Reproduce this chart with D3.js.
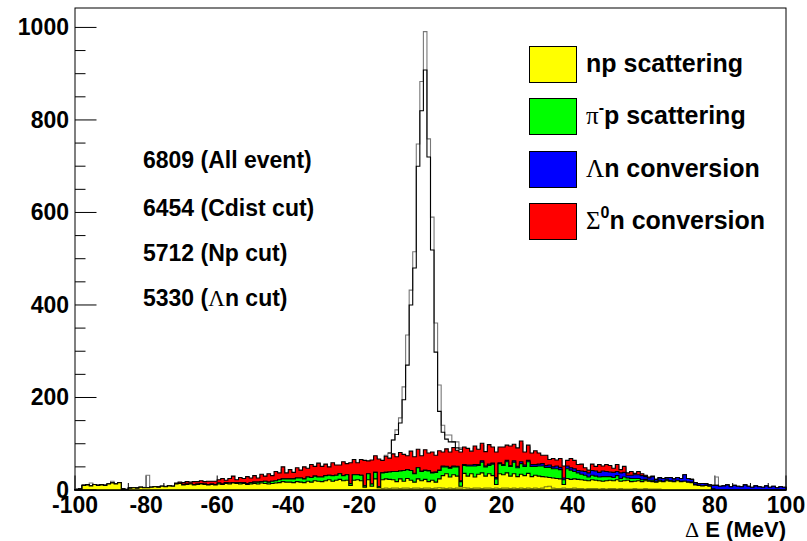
<!DOCTYPE html>
<html>
<head>
<meta charset="utf-8">
<script src="https://cdn.jsdelivr.net/npm/d3@7"></script>
<style>
  body { margin: 0; background: #fff; }
  text { font-family: "Liberation Sans", Arial, Helvetica, sans-serif; font-weight: bold; fill: #000; }
  .sym { font-family: "Liberation Serif", "DejaVu Serif", serif; font-weight: normal; }
</style>
</head>
<body>
<svg id="chart" width="807" height="541"></svg>
<script>
// 1 MeV bins, first bin starts at -100
const binStart = -100;

const npScattering = [
  1, 2, 10, 11, 9, 12, 10, 11, 10, 13,
  15, 13, 16, 2, 1, 4, 5, 4, 6, 5,
  5, 6, 7, 6, 8, 7, 9, 8, 13, 14,
  11, 12, 13, 11, 12, 13, 12, 11, 12, 11,
  13, 12, 14, 13, 15, 14, 13, 14, 12, 13,
  14, 13, 15, 14, 13, 14, 15, 16, 18, 17,
  17, 16, 18, 17, 16, 19, 17, 20, 19, 18,
  20, 22, 19, 21, 23, 20, 21, 10, 21, 22,
  20, 6, 22, 8, 24, 5, 22, 24, 23, 22,
  18, 24, 19, 25, 21, 17, 24, 20, 23, 18,
  21, 17, 24, 31, 35, 28, 33, 30, 8, 36,
  30, 35, 28, 34, 37, 30, 35, 31, 12, 35,
  33, 37, 30, 35, 29, 34, 31, 36, 29, 32,
  30, 29, 28, 27, 26, 25, 24, 12, 25, 23,
  24, 23, 22, 21, 20, 22, 21, 20, 19, 20,
  21, 20, 22, 19, 20, 21, 18, 19, 20, 18,
  20, 19, 18, 17, 19, 18, 20, 19, 18, 20,
  18, 19, 17, 16, 11, 10, 9, 10, 8, 2,
  0, 0, 0, 0, 0, 0, 0, 0, 0, 0,
  0, 0, 0, 0, 0, 0, 0, 0, 0, 0
];

const piScattering = [
  0, 0, 0, 0, 0, 0, 0, 0, 0, 0,
  0, 0, 0, 0, 0, 0, 0, 0, 0, 0,
  0, 0, 0, 0, 0, 0, 0, 0, 0, 0,
  1, 1, 0, 1, 1, 1, 1, 1, 1, 1,
  2, 1, 2, 2, 1, 2, 3, 2, 2, 3,
  3, 4, 3, 5, 4, 5, 5, 6, 6, 7,
  7, 8, 8, 9, 8, 9, 10, 10, 9, 10,
  11, 10, 12, 11, 12, 11, 12, 4, 12, 11,
  12, 3, 13, 5, 14, 2, 15, 14, 16, 18,
  22, 17, 23, 19, 21, 18, 24, 20, 19, 23,
  16, 21, 18, 19, 15, 19, 17, 20, 10, 17,
  22, 17, 24, 19, 23, 20, 18, 25, 12, 22,
  20, 24, 21, 25, 19, 23, 20, 25, 22, 19,
  22, 23, 21, 22, 20, 21, 20, 10, 21, 20,
  16, 14, 12, 11, 8, 10, 9, 8, 10, 9,
  8, 7, 9, 6, 8, 5, 7, 6, 5, 4,
  3, 2, 3, 2, 2, 1, 2, 1, 1, 1,
  1, 0, 0, 1, 0, 0, 0, 0, 0, 0,
  0, 0, 0, 0, 0, 0, 0, 0, 0, 0,
  0, 0, 0, 0, 0, 0, 0, 0, 0, 0
];

const lambdaConversion = [
  0, 0, 0, 0, 0, 0, 0, 0, 0, 0,
  0, 0, 0, 0, 0, 0, 0, 0, 0, 0,
  0, 0, 0, 0, 0, 0, 0, 0, 0, 0,
  0, 0, 0, 0, 0, 0, 0, 0, 0, 0,
  0, 0, 0, 0, 0, 0, 0, 0, 0, 0,
  0, 0, 0, 0, 0, 0, 0, 0, 0, 0,
  0, 0, 0, 0, 0, 0, 0, 0, 0, 0,
  0, 0, 0, 0, 0, 0, 0, 0, 0, 0,
  0, 0, 0, 0, 0, 0, 0, 0, 0, 0,
  0, 0, 0, 0, 0, 1, 0, 1, 1, 1,
  1, 1, 1, 2, 1, 2, 2, 1, 2, 2,
  2, 2, 3, 2, 3, 2, 3, 2, 3, 2,
  2, 3, 2, 3, 3, 4, 3, 3, 4, 4,
  4, 5, 4, 5, 4, 6, 5, 4, 6, 5,
  6, 5, 7, 8, 9, 10, 11, 10, 12, 11,
  10, 11, 9, 12, 10, 6, 7, 8, 8, 9,
  6, 5, 8, 4, 5, 6, 4, 7, 5, 6,
  6, 14, 8, 6, 5, 4, 5, 4, 3, 8,
  10, 8, 9, 11, 7, 10, 8, 7, 11, 8,
  6, 9, 7, 6, 9, 6, 8, 5, 7, 6
];

const sigmaConversion = [
  0, 0, 0, 0, 0, 0, 0, 0, 0, 0,
  0, 0, 0, 0, 0, 0, 0, 0, 0, 0,
  0, 0, 0, 1, 0, 0, 0, 0, 2, 3,
  4, 5, 4, 6, 5, 6, 5, 7, 6, 7,
  7, 12, 5, 10, 14, 6, 11, 9, 15, 10,
  14, 9, 16, 11, 18, 12, 20, 15, 26, 13,
  20, 14, 22, 17, 26, 19, 28, 21, 30, 23,
  25, 18, 28, 22, 19, 30, 24, 45, 33, 26,
  34, 55, 28, 52, 36, 60, 27, 35, 30, 38,
  32, 40, 35, 30, 42, 36, 40, 33, 44, 38,
  44, 36, 42, 30, 38, 33, 40, 35, 62, 38,
  36, 30, 40, 33, 38, 31, 42, 35, 55, 34,
  38, 33, 42, 36, 40, 45, 28, 33, 25, 30,
  24, 18, 22, 12, 18, 13, 19, 26, 12, 20,
  18, 13, 15, 8, 6, 14, 10, 17, 11, 15,
  14, 9, 15, 7, 13, 5, 8, 3, 7, 4,
  3, 2, 1, 0, 1, 0, 1, 0, 0, 0,
  0, 0, 0, 0, 0, 0, 0, 0, 0, 0,
  0, 0, 0, 0, 0, 0, 0, 0, 0, 0,
  0, 0, 0, 0, 0, 0, 0, 0, 0, 0
];

// all events (open histogram)
const allEvents = [
  3, 2, 8, 10, 15, 11, 9, 10, 8, 12,
  19, 12, 14, 3, 2, 5, 4, 3, 5, 6,
  32, 5, 6, 6, 7, 8, 8, 7, 14, 16,
  15, 17, 16, 17, 17, 19, 17, 18, 18, 18,
  20, 20, 20, 21, 22, 21, 22, 22, 24, 23,
  25, 25, 28, 28, 30, 29, 33, 35, 45, 35,
  40, 36, 44, 40, 46, 44, 50, 48, 54, 48,
  52, 47, 55, 50, 50, 57, 54, 55, 62, 55,
  62, 60, 60, 61, 70, 63, 62, 75, 80, 108,
  130, 156, 223, 335, 432, 515, 748, 883, 991, 759,
  590, 361, 227, 140, 119, 119, 104, 104, 91, 88,
  86, 80, 90, 84, 96, 80, 94, 89, 78, 89,
  89, 93, 91, 95, 87, 100, 78, 93, 76, 81,
  76, 71, 71, 62, 64, 61, 64, 49, 60, 64,
  60, 52, 52, 45, 40, 52, 48, 51, 49, 51,
  50, 44, 52, 41, 48, 34, 37, 33, 37, 32,
  31, 27, 29, 22, 26, 24, 26, 26, 23, 26,
  24, 32, 24, 22, 15, 13, 13, 13, 10, 9,
  28, 7, 8, 10, 6, 9, 7, 6, 10, 7,
  5, 8, 6, 5, 8, 5, 7, 4, 6, 5
];

// after cuts, only around the peak (bins from -12)
const cutStart = -12;
const cutEvents = [80, 108, 120, 145, 195, 270, 400, 480, 700, 820, 908,
  720, 519, 298, 170, 125, 110, 104, 104, 91, 88];

// small line histogram at the bottom (bins from -14)
const extraStart = -14;
const extraLine = [
  3, 4, 3, 4, 4, 3, 4, 4, 3, 4,
  4, 3, 4, 4, 3, 4, 5, 4, 3, 4,
  3, 4, 4, 5, 4, 3, 4, 4, 3, 4,
  4, 3, 4, 3, 4, 4, 3, 4, 3, 4,
  3, 4, 3, 4, 3, 4, 7, 8, 4, 3,
  3, 4, 3, 3, 4, 3, 3, 2, 3, 3,
  3, 2, 3, 2, 3, 3, 2, 3, 2, 2,
  2, 3, 2, 2, 3, 2, 2, 2, 2
];

const xTicks = [-100, -80, -60, -40, -20, 0, 20, 40, 60, 80, 100];
const yTicks = [0, 200, 400, 600, 800, 1000];
const counts = ["6809 (All event)", "6454 (Cdist cut)", "5712 (Np cut)", "5330 (\u039bn cut)"];
const legendColors = ["#ffff00", "#00ff00", "#0000ff", "#ff0000"];
const legendLabels = [
  [["np scattering", ""]],
  [["\u03c0", "sym"], ["-", "sup"], ["p scattering", ""]],
  [["\u039b", "sym"], ["n conversion", ""]],
  [["\u03a3", "sym"], ["0", "sup"], ["n conversion", ""]]
];

const padL = 75, padR = 786, padT = 8, padB = 490;
const x = d3.scaleLinear().domain([-100, 100]).range([padL, padR]);
const y = d3.scaleLinear().domain([0, 1042]).range([padB, padT]);

const svg = d3.select("#chart");

// step outline; close = go down to the axis at both ends
function stepPath(vals, start, close) {
  let p = "";
  vals.forEach((v, i) => {
    const x0 = x(start + i), x1 = x(start + i + 1);
    if (i === 0) p += close ? `M${x0},${y(0)}V${y(v)}` : `M${x0},${y(v)}`;
    else p += `V${y(v)}`;
    p += `H${x1}`;
  });
  if (close) p += `V${y(0)}`;
  return p;
}

// x axis ticks (drawn first, histograms cover them)
const xMinor = d3.range(-100, 101, 5);
svg.append("g")
  .selectAll("line")
  .data(xMinor)
  .join("line")
  .attr("x1", d => x(d)).attr("x2", d => x(d))
  .attr("y1", padB)
  .attr("y2", d => (d % 20 === 0 ? padB - 14.5 : padB - 7))
  .attr("stroke", "#000");

// open histograms
svg.append("path")
  .attr("d", stepPath(allEvents, binStart, true))
  .attr("fill", "none")
  .attr("stroke", "#777")
  .attr("stroke-width", 1.1);

svg.append("path")
  .attr("d", stepPath(cutEvents, cutStart, false))
  .attr("fill", "none")
  .attr("stroke", "#000")
  .attr("stroke-width", 1.1);

// stacked histograms
const keys = ["np", "pi", "lam", "sig"];
const rows = npScattering.map((v, i) => ({
  np: v,
  pi: piScattering[i],
  lam: lambdaConversion[i],
  sig: sigmaConversion[i]
}));
const series = d3.stack().keys(keys)(rows);

svg.append("g")
  .selectAll("path")
  .data(series.slice().reverse())
  .join("path")
  .attr("d", s => stepPath(s.map(d => d[1]), binStart, true) + "Z")
  .attr("fill", s => legendColors[keys.indexOf(s.key)])
  .attr("stroke", "#000")
  .attr("stroke-width", 1.1);

svg.append("path")
  .attr("d", stepPath(extraLine, extraStart, false))
  .attr("fill", "none")
  .attr("stroke", "#7a7a10")
  .attr("stroke-width", 1.1);

// frame
svg.append("rect")
  .attr("x", padL).attr("y", padT)
  .attr("width", padR - padL).attr("height", padB - padT)
  .attr("fill", "none")
  .attr("stroke", "#000");

// y axis ticks
const yMinor = d3.range(0, 1001, 50);
svg.append("g")
  .selectAll("line")
  .data(yMinor)
  .join("line")
  .attr("x1", padL)
  .attr("x2", d => (d % 200 === 0 ? padL + 21.5 : padL + 10.5))
  .attr("y1", d => y(d)).attr("y2", d => y(d))
  .attr("stroke", "#000");

svg.append("g")
  .selectAll("text")
  .data(yTicks)
  .join("text")
  .attr("x", 69)
  .attr("y", d => y(d) + 8)
  .attr("text-anchor", "end")
  .style("font-size", "23px")
  .text(d => d);

svg.append("g")
  .selectAll("text")
  .data(xTicks)
  .join("text")
  .attr("x", d => x(d))
  .attr("y", 513)
  .attr("text-anchor", "middle")
  .style("font-size", "23px")
  .text(d => d);

// axis title
const title = svg.append("text")
  .attr("x", padR)
  .attr("y", 537)
  .attr("text-anchor", "end")
  .style("font-size", "22px");
title.append("tspan").attr("class", "sym").text("\u0394");
title.append("tspan").text(" E (MeV)");

// event counts
svg.append("g")
  .selectAll("text")
  .data(counts)
  .join("text")
  .attr("x", 143)
  .attr("y", (d, i) => [168, 216, 261, 306][i])
  .style("font-size", "23px")
  .each(function (d) {
    const t = d3.select(this);
    d.split(/(\u039b)/).forEach(part => {
      t.append("tspan")
        .attr("class", part === "\u039b" ? "sym" : null)
        .text(part);
    });
  });

// legend
const legendRows = [72, 124, 177, 229];
const legend = svg.append("g");
legendLabels.forEach((parts, i) => {
  legend.append("rect")
    .attr("x", 529.5)
    .attr("y", legendRows[i] - 25.5)
    .attr("width", 47)
    .attr("height", 36)
    .attr("fill", legendColors[i])
    .attr("stroke", "#000");
  const t = legend.append("text")
    .attr("x", 586)
    .attr("y", legendRows[i])
    .style("font-size", "25px");
  let prev = "";
  parts.forEach(([str, kind]) => {
    const sp = t.append("tspan").text(str);
    if (kind === "sym") sp.attr("class", "sym");
    if (kind === "sup") sp.attr("dy", -11).style("font-size", "16px");
    if (prev === "sup") sp.attr("dy", 11);
    prev = kind;
  });
});
</script>
</body>
</html>
